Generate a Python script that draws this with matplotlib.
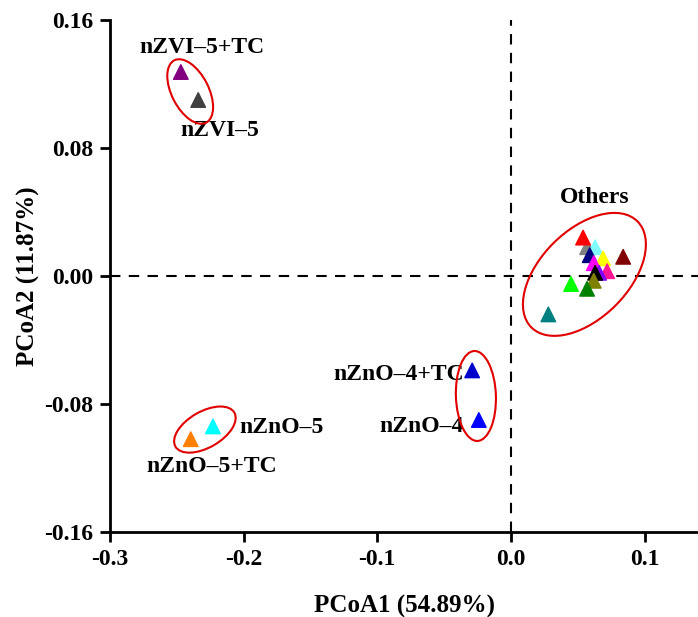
import matplotlib
matplotlib.use("Agg")
import matplotlib.pyplot as plt
from matplotlib.patches import Ellipse

plt.rcParams['font.family'] = ['Liberation Serif', 'DejaVu Serif']
plt.rcParams['font.weight'] = 'bold'
plt.rcParams['axes.unicode_minus'] = False

# named samples
pc1_named = [-0.247, -0.234, -0.223, -0.2396, -0.029, -0.024]
pc2_named = [0.1275, 0.110, -0.094, -0.102, -0.059, -0.090]
col_named = ['#800080', '#404040', '#00FFFF', '#FF8000', '#0000CD', '#0000FF']

# "Others" cluster
pc1_others = [0.057, 0.054, 0.063, 0.059, 0.069, 0.084, 0.062, 0.072,
              0.066, 0.063, 0.062, 0.045, 0.057, 0.028]
pc2_others = [0.018, 0.024, 0.018, 0.013, 0.011, 0.012, 0.008, 0.003,
              0.002, 0.002, -0.003, -0.005, -0.008, -0.024]
col_others = ['#808080', '#FF0000', '#80FFFF', '#000080', '#FFFF00', '#800000',
              '#FF00FF', '#FF1493', '#8000FF', '#000000', '#808000', '#00FF00',
              '#008000', '#008080']

labels = ['nZVI–5+TC', 'nZVI–5', 'nZnO–5', 'nZnO–5+TC', 'nZnO–4+TC', 'nZnO–4', 'Others']
label_xy = [(-0.231, 0.1425), (-0.218, 0.091), (-0.2035, -0.0945), (-0.224, -0.119),
            (-0.0355, -0.0615), (-0.0355, -0.094), (0.0627, 0.049)]
label_ha = ['center', 'center', 'left', 'center', 'right', 'right', 'center']

fig = plt.figure(figsize=(6.98, 6.17), dpi=100)
ax = fig.add_axes([0.1576, 0.1378, 0.8424, 0.8298])

ax.axhline(0, color='black', ls=(0, (5, 4)), lw=1.5, zorder=1)
ax.axvline(0, color='black', ls=(0, (5, 4)), lw=1.5, zorder=1)

ax.scatter(pc1_named, pc2_named, c=col_named, marker='^', s=110, zorder=3)
ax.scatter(pc1_others, pc2_others, c=col_others, marker='^', s=110, zorder=3)

ax.set_xlim(-0.3, 0.14)
ax.set_ylim(-0.16, 0.16)
ax.set_xticks([-0.3, -0.2, -0.1, 0.0, 0.1])
ax.set_xticklabels(['-0.3', '-0.2', '-0.1', '0.0', '0.1'])
ax.set_yticks([-0.16, -0.08, 0.0, 0.08, 0.16])
ax.set_yticklabels(['-0.16', '-0.08', '0.00', '0.08', '0.16'])

for side in ['top', 'right']:
    ax.spines[side].set_visible(False)
for side in ['left', 'bottom']:
    ax.spines[side].set_linewidth(2)
ax.tick_params(direction='out', length=7, width=2, labelsize=17, pad=5)

ax.set_xlabel('PCoA1 (54.89%)', fontsize=18, fontweight='bold', labelpad=18)
ax.set_ylabel('PCoA2 (11.87%)', fontsize=18, fontweight='bold', labelpad=3)

for t, (tx, ty), ha in zip(labels, label_xy, label_ha):
    ax.text(tx, ty, t, fontsize=17, fontweight='bold', ha=ha, va='center')

# ellipses drawn in pixel space around group centres
fig.canvas.draw()
groups = [((-0.240, 0.1153), 70, 37, -63),
          ((-0.229, -0.096), 68, 36, 30),
          ((-0.0262, -0.075), 90, 40, 92),
          ((0.055, 0.001), 150, 88, 45)]
for (cx, cy), w, h, ang in groups:
    px, py = ax.transData.transform((cx, cy))
    e = Ellipse((px, py), w, h, angle=ang, transform=None, fill=False,
                edgecolor='#E00000', lw=1.5, zorder=2)
    fig.add_artist(e)

fig.savefig('out.png', dpi=100)
